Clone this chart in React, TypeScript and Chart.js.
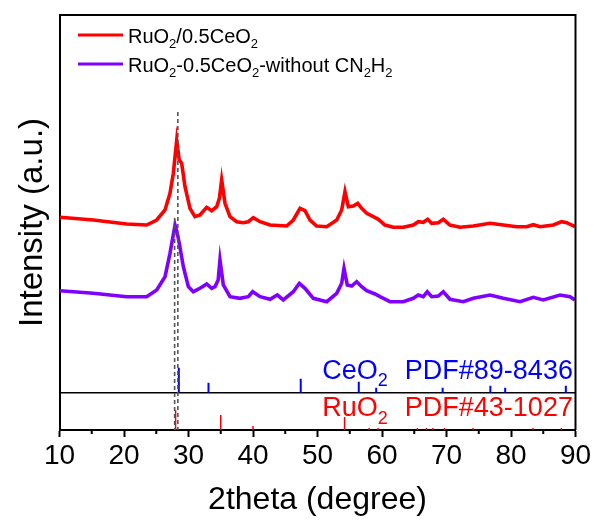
import React, { useEffect, useRef } from 'react';
import { Chart, registerables } from 'chart.js';

Chart.register(...registerables);

const FONT = '"Liberation Sans", Arial, Helvetica, sans-serif';

// 2theta (degree) and intensity (a.u.)
const redTheta = [10.08, 15.24, 20.41, 23.51, 25.07, 26.36, 27.13, 27.65, 28.17, 28.57, 28.94, 29.46, 30.23, 31.0, 31.78, 32.82, 33.6, 34.37, 34.8, 35.14, 35.66, 36.43, 37.47, 38.5, 39.27, 40.05, 41.09, 42.64, 45.22, 46.25, 47.29, 48.06, 48.84, 49.87, 51.43, 52.98, 53.75, 54.26, 54.78, 55.55, 56.23, 56.85, 57.63, 58.66, 59.43, 60.47, 61.75, 63.3, 64.85, 65.63, 66.4, 67.08, 67.7, 68.73, 69.5, 70.54, 72.09, 74.16, 76.74, 78.81, 80.88, 82.43, 83.46, 84.5, 86.56, 87.86, 88.64, 89.92];
const redIntensity = [212.7, 210, 206, 205, 210, 220, 236.7, 256.7, 289.3, 270, 266.7, 243.3, 221.7, 213.3, 215, 222.7, 219.3, 223.3, 232, 250, 226.7, 213.3, 208.3, 207.3, 208.3, 212.3, 208.3, 205, 204, 210, 221.7, 219.3, 210, 204, 203.3, 210, 220, 238.3, 223.3, 224, 226.7, 221.7, 216.7, 213.3, 210.7, 205, 202.7, 202.7, 205, 208.3, 207.7, 210.7, 206.7, 207.3, 210.7, 205, 202.7, 204, 206.7, 205, 203.3, 203.3, 205.3, 203.3, 205, 208.3, 207.3, 203.3];

const purpleTheta = [10.08, 15.24, 20.41, 23.51, 25.07, 26.36, 27.13, 27.91, 28.27, 28.57, 29.2, 29.98, 30.75, 31.78, 32.82, 33.6, 34.11, 34.6, 34.88, 35.4, 36.43, 37.98, 39.27, 39.95, 41.09, 42.64, 43.77, 44.7, 46.25, 47.18, 48.06, 49.35, 51.43, 52.98, 53.75, 54.11, 54.62, 55.3, 56.08, 56.85, 57.63, 58.91, 59.69, 61.24, 63.3, 64.85, 65.63, 66.4, 67.02, 67.7, 68.73, 69.5, 70.54, 72.6, 74.16, 76.74, 78.81, 81.4, 83.46, 85.01, 87.6, 89.15, 89.92];
const purpleIntensity = [139.3, 136.7, 133.3, 133.3, 140, 153.3, 176.7, 205, 196.7, 186.7, 163.3, 143.3, 138.3, 141.7, 146, 141.7, 143.3, 150, 170, 145, 133.3, 131.7, 133.3, 138.3, 133.3, 130.7, 135, 130, 138.3, 146.7, 141.7, 131.7, 128.3, 136.7, 146.7, 161.7, 145, 144, 148.3, 143.3, 139.3, 136, 133.3, 128.3, 128.3, 131.7, 135, 133.3, 138.3, 133.3, 134, 138.3, 130.7, 128.3, 131.7, 135, 131.7, 128.3, 132.7, 130, 135, 133.3, 130];

// reference patterns (stick positions and heights)
const ceo2Base = 37.3;
const ceo2Theta = [28.5, 33.1, 47.4, 56.4, 59.1, 69.4, 76.8, 79.1, 88.5];
const ceo2Height = [25, 10, 14, 11, 5, 5, 7, 5, 7];
const ruo2Base = 0;
const ruo2Theta = [28.0, 35.0, 40.0, 54.2, 58.0, 59.4, 65.5, 66.9, 67.9, 69.7, 74.1, 83.4, 87.8];
const ruo2Height = [20, 15, 4, 13, 2, 2, 2, 2, 2, 2, 2, 2, 2];

// dashed guide lines (position, top intensity)
const guideTheta = [28.35, 27.85];
const guideTop = [318, 212];

const xMin = 10;
const xMax = 90;
const xTickValues = [10, 20, 30, 40, 50, 60, 70, 80, 90];
const xMinorTicks = [15, 25, 35, 45, 55, 65, 75, 85];
const yMin = 0;
const yMax = 415;

const RED = '#ff0000';
const PURPLE = '#8000ff';
const BLUE = '#0000ff';

type Seg = { t: string; sub?: boolean; gap?: number };

const legendItems: { color: string; segs: Seg[] }[] = [
  { color: RED, segs: [{ t: 'RuO' }, { t: '2', sub: true }, { t: '/0.5CeO' }, { t: '2', sub: true }] },
  {
    color: PURPLE,
    segs: [
      { t: 'RuO' }, { t: '2', sub: true }, { t: '-0.5CeO' }, { t: '2', sub: true },
      { t: '-without CN' }, { t: '2', sub: true }, { t: 'H' }, { t: '2', sub: true },
    ],
  },
];

const patternLabels: { color: string; base: number; segs: Seg[] }[] = [
  { color: BLUE, base: ceo2Base, segs: [{ t: 'CeO' }, { t: '2', sub: true }, { t: 'PDF#89-8436', gap: 17 }] },
  { color: RED, base: ruo2Base, segs: [{ t: 'RuO' }, { t: '2', sub: true }, { t: 'PDF#43-1027', gap: 17 }] },
];

function sticks(theta: number[], heights: number[], base: number) {
  const out: { x: number; y: number | null }[] = [];
  theta.forEach((t, i) => {
    out.push({ x: t, y: base }, { x: t, y: base + heights[i] }, { x: t, y: null });
  });
  return out;
}

function drawRich(ctx: CanvasRenderingContext2D, segs: Seg[], x: number, y: number, size: number, color: string, align: 'left' | 'right') {
  const mainFont = `${size}px ${FONT}`;
  const subFont = `${Math.round(size * 0.66)}px ${FONT}`;
  let w = 0;
  for (const s of segs) {
    ctx.font = s.sub ? subFont : mainFont;
    w += (s.gap || 0) + ctx.measureText(s.t).width;
  }
  let cx = align === 'right' ? x - w : x;
  ctx.fillStyle = color;
  ctx.textAlign = 'left';
  ctx.textBaseline = 'alphabetic';
  for (const s of segs) {
    ctx.font = s.sub ? subFont : mainFont;
    cx += s.gap || 0;
    ctx.fillText(s.t, cx, s.sub ? y + size * 0.28 : y);
    cx += ctx.measureText(s.t).width;
  }
}

const decorPlugin = {
  id: 'decor',
  afterDraw(chart: any) {
    const { ctx, chartArea, scales } = chart;
    const xs = scales.x;
    const ys = scales.y;
    ctx.save();
    // frame top/right
    ctx.strokeStyle = '#000';
    ctx.lineWidth = 2;
    ctx.beginPath();
    ctx.moveTo(chartArea.left, chartArea.top);
    ctx.lineTo(chartArea.right, chartArea.top);
    ctx.lineTo(chartArea.right, chartArea.bottom);
    ctx.stroke();
    // minor ticks
    ctx.lineWidth = 2;
    ctx.beginPath();
    for (const v of xMinorTicks) {
      const px = xs.getPixelForValue(v);
      ctx.moveTo(px, chartArea.bottom);
      ctx.lineTo(px, chartArea.bottom + 4);
    }
    ctx.stroke();
    // legend
    legendItems.forEach((item, i) => {
      const ly = 35 + i * 29;
      ctx.strokeStyle = item.color;
      ctx.lineWidth = 3;
      ctx.beginPath();
      ctx.moveTo(78, ly);
      ctx.lineTo(123, ly);
      ctx.stroke();
      drawRich(ctx, item.segs, 128, ly + 7.5, 20, '#000', 'left');
    });
    // pattern labels
    const rightX = xs.getPixelForValue(89.6);
    patternLabels.forEach((p) => {
      const by = ys.getPixelForValue(p.base) - 14;
      drawRich(ctx, p.segs, rightX, by, 27, p.color, 'right');
    });
    ctx.restore();
  },
};

export default function App() {
  const ref = useRef<HTMLCanvasElement | null>(null);
  useEffect(() => {
    if (!ref.current) return;
    const redData = redTheta.map((x, i) => ({ x, y: redIntensity[i] }));
    const purpleData = purpleTheta.map((x, i) => ({ x, y: purpleIntensity[i] }));
    const guideData: { x: number; y: number | null }[] = [];
    guideTheta.forEach((t, i) => guideData.push({ x: t, y: guideTop[i] }, { x: t, y: 0 }, { x: t, y: null }));
    const chart = new Chart(ref.current, {
      type: 'line',
      data: {
        datasets: [
          { label: 'guide', data: guideData, borderColor: '#555', borderWidth: 1.6, borderDash: [4, 3], pointRadius: 0, spanGaps: false },
          { label: 'RuO2/0.5CeO2', data: redData, borderColor: RED, borderWidth: 3.6, pointRadius: 0, tension: 0 },
          { label: 'RuO2-0.5CeO2-without CN2H2', data: purpleData, borderColor: PURPLE, borderWidth: 3.6, pointRadius: 0, tension: 0 },
          { label: 'CeO2 PDF#89-8436', data: sticks(ceo2Theta, ceo2Height, ceo2Base), borderColor: BLUE, borderWidth: 2, pointRadius: 0, spanGaps: false },
          { label: 'RuO2 PDF#43-1027', data: sticks(ruo2Theta, ruo2Height, ruo2Base), borderColor: RED, borderWidth: 1.5, pointRadius: 0, spanGaps: false },
          { label: 'divider', data: [{ x: xMin, y: ceo2Base }, { x: xMax, y: ceo2Base }], borderColor: '#000', borderWidth: 1.4, pointRadius: 0 },
        ] as any,
      },
      options: {
        animation: false,
        responsive: false,
        devicePixelRatio: 1,
        layout: { padding: { left: 0, right: 22.5, top: 15, bottom: 0 } },
        plugins: { legend: { display: false }, tooltip: { enabled: false } },
        scales: {
          x: {
            type: 'linear',
            min: xMin,
            max: xMax,
            afterBuildTicks: (s: any) => { s.ticks = xTickValues.map((v) => ({ value: v })); },
            ticks: { autoSkip: false, maxRotation: 0, color: '#000', font: { size: 28, family: FONT }, padding: 2 },
            grid: { display: true, drawOnChartArea: false, drawTicks: true, tickLength: 7, tickWidth: 2, tickColor: '#000' },
            border: { display: true, width: 2, color: '#000' },
            title: { display: true, text: '2theta (degree)', color: '#000', font: { size: 32, family: FONT }, padding: { top: 0, bottom: 6 } },
            afterFit: (s: any) => { s.height = 95; },
          },
          y: {
            type: 'linear',
            min: yMin,
            max: yMax,
            ticks: { display: false },
            grid: { display: false, drawTicks: false },
            border: { display: true, width: 2, color: '#000' },
            title: { display: true, text: 'Intensity (a.u.)', color: '#000', font: { size: 33, family: FONT }, padding: { top: 13, bottom: 0 } },
            afterFit: (s: any) => { s.width = 59.5; },
          },
        },
      } as any,
      plugins: [decorPlugin],
    });
    return () => chart.destroy();
  }, []);
  return (
    <div style={{ position: 'fixed', left: 0, top: 0, width: 598, height: 525, background: '#fff' }}>
      <canvas ref={ref} width={598} height={525} style={{ width: 598, height: 525, display: 'block' }} />
    </div>
  );
}
